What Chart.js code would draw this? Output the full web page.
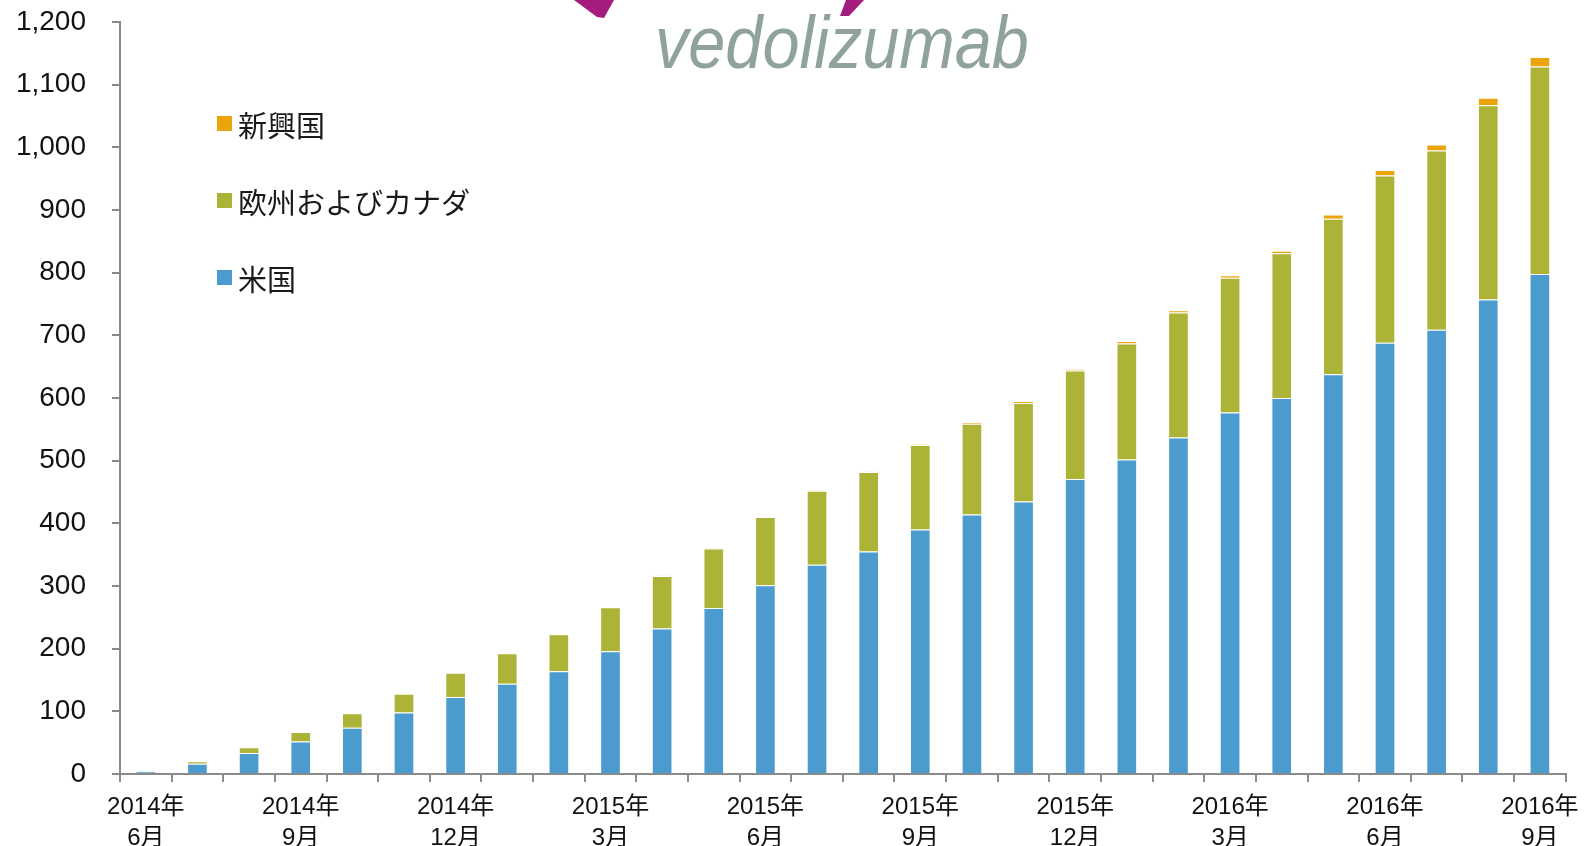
<!DOCTYPE html>
<html>
<head>
<meta charset="utf-8">
<script src="https://cdn.jsdelivr.net/npm/chart.js@4"></script>
<style>
  body { margin: 0; background: #fff; }
  #wrap { position: relative; width: 1589px; height: 846px; overflow: hidden; }
  #logo { position: absolute; left: 0; top: 0; }
  #logo-text {
    position: absolute; left: 655px; top: 0px;
    font-family: "Liberation Sans", sans-serif; font-style: italic; font-size: 74px; font-weight: 300;
    color: #8fa29c; transform: scaleX(0.9); transform-origin: left top; white-space: nowrap;
  }
  #legend { position: absolute; left: 217px; top: 108px; font-family: "Noto Sans CJK JP", sans-serif; }
  .item { display: flex; align-items: center; height: 31px; margin-bottom: 46px; font-size: 29px; color: #1a1a1a; }
  .sw { width: 15px; height: 15px; margin-right: 6px; }
</style>
</head>
<body>
<div id="wrap">
  <canvas id="chart" width="1589" height="846"></canvas>
  <svg id="logo" width="1589" height="30">
    <polygon points="574,0 614,0 604,18 597,17" fill="#a51c7f"/>
    <polygon points="846,0 864,0 849,16 840,16" fill="#a51c7f"/>
  </svg>
  <div id="logo-text">vedolizumab</div>
  <div id="legend"></div>
</div>
<script>
// 2014年6月 〜 2016年9月（月次）
const months = [
  '2014年6月', '2014年7月', '2014年8月', '2014年9月', '2014年10月', '2014年11月', '2014年12月',
  '2015年1月', '2015年2月', '2015年3月', '2015年4月', '2015年5月', '2015年6月', '2015年7月',
  '2015年8月', '2015年9月', '2015年10月', '2015年11月', '2015年12月', '2016年1月', '2016年2月',
  '2016年3月', '2016年4月', '2016年5月', '2016年6月', '2016年7月', '2016年8月', '2016年9月',
];

const usValues = [4, 16.5, 33.5, 52, 74, 98, 123, 144, 164, 196, 232, 265, 301, 334,
  355, 390, 414, 435, 470.6, 502, 537, 577, 600, 638, 688, 709, 757, 798];
const euCaValues = [1, 4, 9, 15, 23, 30, 38.5, 48.5, 59, 70, 84, 95, 109, 118,
  127, 135, 145, 157, 173.4, 185, 199.5, 215, 231, 248, 267, 286, 310, 331];
const emergingValues = [0, 0, 0, 0, 0, 0, 0, 0, 0.5, 0.5, 0.5, 0.5, 0.5, 0.5,
  0.5, 1, 2, 3, 2, 4, 3.5, 4, 4, 7, 9, 9.5, 12, 15];

const yTicks = [0, 100, 200, 300, 400, 500, 600, 700, 800, 900, 1000, 1100, 1200];

const series = [
  { label: '米国', data: usValues, color: '#4b9bce' },
  { label: '欧州およびカナダ', data: euCaValues, color: '#acb337' },
  { label: '新興国', data: emergingValues, color: '#eaa50c' },
];

const axisColor = '#8a8a8a';

new Chart(document.getElementById('chart'), {
  type: 'bar',
  data: {
    labels: months,
    datasets: series.map(s => ({
      label: s.label,
      data: s.data,
      backgroundColor: s.color,
      borderColor: 'rgba(255,255,255,0.35)',
      borderWidth: 1,
      borderSkipped: 'start',
      categoryPercentage: 0.8,
      barPercentage: 0.5,
    })),
  },
  options: {
    responsive: false,
    animation: false,
    layout: { padding: { top: 22, right: 23 } },
    plugins: { legend: { display: false }, tooltip: { enabled: false } },
    scales: {
      x: {
        stacked: true,
        border: { color: axisColor, width: 2 },
        grid: { offset: true, drawOnChartArea: false, drawTicks: true, tickLength: 8, color: axisColor, lineWidth: 2 },
        ticks: {
          autoSkip: false, maxRotation: 0, padding: 10, color: '#111',
          font: { family: 'Liberation Sans, Noto Sans CJK JP, sans-serif', size: 24, lineHeight: 1.3 },
          callback: (v, i) => i % 3 === 0 ? [months[i].split('年')[0] + '年', months[i].split('年')[1]] : '',
        },
        afterFit: s => { s.height = 72; },
      },
      y: {
        stacked: true,
        min: 0, max: 1200,
        afterBuildTicks: s => { s.ticks = yTicks.map(v => ({ value: v })); },
        border: { color: axisColor, width: 2 },
        grid: { drawOnChartArea: false, drawTicks: true, tickLength: 8, color: axisColor, lineWidth: 2 },
        ticks: {
          padding: 26, color: '#111',
          font: { family: 'Liberation Sans, sans-serif', size: 28 },
          callback: v => v.toLocaleString('en-US'),
        },
        afterFit: s => { s.width = 120; s.paddingTop = 0; s.paddingBottom = 0; },
      },
    },
  },
});

// 凡例（逆順）
const legend = document.getElementById('legend');
series.slice().reverse().forEach(s => {
  const item = document.createElement('div');
  item.className = 'item';
  item.innerHTML = `<span class="sw" style="background:${s.color}"></span><span>${s.label}</span>`;
  legend.appendChild(item);
});
</script>
</body>
</html>
